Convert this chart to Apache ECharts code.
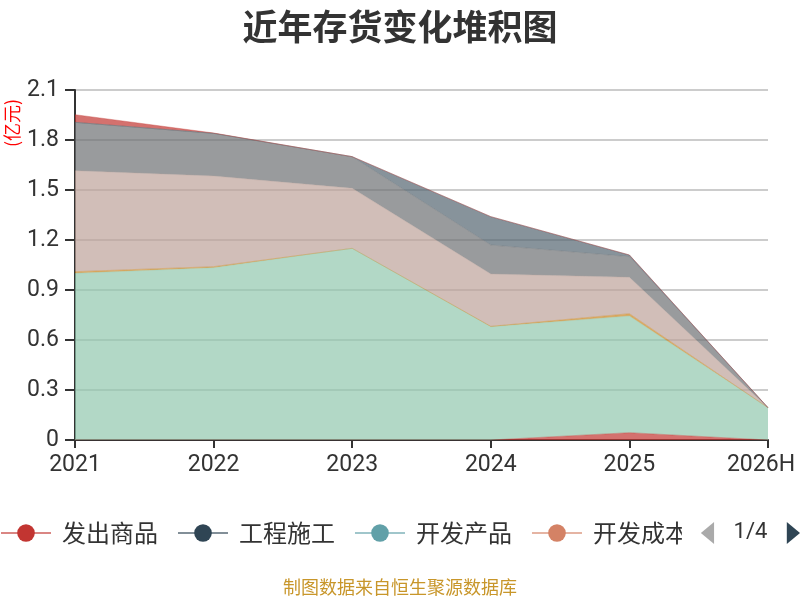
<!DOCTYPE html>
<html>
<head>
<meta charset="utf-8">
<script src="https://cdn.jsdelivr.net/npm/echarts@6/dist/echarts.min.js"></script>
<style>html,body{margin:0;padding:0;background:#fff}#c{width:800px;height:600px}</style>
</head>
<body>
<div id="c"></div>
<script>
var categories = ['2021', '2022', '2023', '2024', '2025', '2026H'];
var yTicks = [0, 0.3, 0.6, 0.9, 1.2, 1.5, 1.8, 2.1];
var seriesNames = ['发出商品', '工程施工', '开发产品', '开发成本', '库存商品', '周转材料', '原材料', '在产品', '委托加工', '低值易耗', '半成品', '合同资产', '其他'];
var s0 = [0, 0, 0, 0, 0.044, 0];
var s1 = [null, null, null, null, null, null];
var s2 = [null, null, null, null, null, null];
var s3 = [null, null, null, null, null, null];
var s4 = [1.0, 1.034, 1.15, 0.68, 0.70, 0.194];
var s5 = [null, null, null, null, null, null];
var s6 = [0.01, 0.006, 0, 0.002, 0.014, 0];
var s7 = [0.606, 0.544, 0.36, 0.314, 0.218, 0];
var s8 = [0.29, 0.256, 0.19, 0.174, 0.124, 0];
var s9 = [0, 0, 0, 0.17, 0.01, 0];
var s10 = [null, null, null, null, null, null];
var s11 = [0.046, 0.002, 0, 0, 0, 0];
var s12 = [null, null, null, null, null, null];
var seriesValues = [s0, s1, s2, s3, s4, s5, s6, s7, s8, s9, s10, s11, s12];
var palette = ['#c23531', '#2f4554', '#61a0a8', '#d48265', '#91c7ae', '#749f83', '#ca8622', '#bda29a', '#6e7074', '#546570', '#c4ccd3'];

var chart = echarts.init(document.getElementById('c'));
var series = seriesNames.map(function (n, i) {
  return {
    name: n,
    type: 'line',
    stack: 'total',
    data: seriesValues[i],
    symbol: 'circle',
    showSymbol: false,
    smooth: false,
    lineStyle: { width: 0.6, opacity: 0.6 },
    areaStyle: { opacity: 0.7 },
    emphasis: { disabled: true }
  };
});
chart.setOption({
  color: palette,
  animation: false,
  title: {
    text: '近年存货变化堆积图',
    left: 'center',
    top: 4,
    textStyle: { fontSize: 35, fontWeight: 'bold', color: '#333', fontFamily: 'Noto Sans CJK SC' }
  },
  grid: { left: 75, right: 32, top: 90, bottom: 160, containLabel: false, outerBoundsMode: 'none' },
  xAxis: {
    type: 'category',
    data: categories,
    boundaryGap: false,
    axisLine: { lineStyle: { color: '#333', width: 2 } },
    axisTick: { length: 8, interval: 0, lineStyle: { color: '#333', width: 2 } },
    axisLabel: {
      interval: 0,
      hideOverlap: false,
      fontSize: 23, color: '#333', margin: 14, fontFamily: 'Roboto',
      formatter: function (v, i) { return i === categories.length - 1 ? '{last|' + v + '}' : v; },
      rich: { last: { fontSize: 23, color: '#333', fontFamily: 'Roboto', padding: [0, 14, 0, 0] } }
    },
    splitLine: { show: false }
  },
  yAxis: {
    type: 'value',
    min: yTicks[0],
    max: yTicks[yTicks.length - 1],
    interval: 0.3,
    axisLine: { show: true, lineStyle: { color: '#333', width: 2 } },
    axisTick: { show: true, length: 10, lineStyle: { color: '#333', width: 2 } },
    axisLabel: { fontSize: 23, color: '#333', margin: 16, fontFamily: 'Roboto' },
    splitLine: { lineStyle: { color: '#ccc', width: 2 } }
  },
  legend: {
    type: 'scroll',
    data: seriesNames,
    left: 0,
    right: 0,
    top: 521,
    padding: 0,
    itemWidth: 50,
    itemHeight: 22,
    itemGap: 19,
    textStyle: { fontSize: 24, color: '#333', fontFamily: 'Noto Sans CJK SC', padding: [0, 0, 0, 6] },
    pageIconSize: [18, 22],
    pageIconColor: '#2f4554',
    pageIconInactiveColor: '#aaa',
    pageTextStyle: { fontSize: 22, color: '#333', fontFamily: 'Roboto' },
    pageButtonItemGap: 10
  },
  graphic: [
    {
      type: 'text',
      x: 3,
      y: 147,
      rotation: Math.PI / 2,
      style: { text: '(亿元)', fill: '#f00', fontSize: 18, fontFamily: 'Noto Sans CJK SC' }
    },
    {
      type: 'text',
      left: 'center',
      top: 578,
      style: { text: '制图数据来自恒生聚源数据库', fill: '#c8962a', fontSize: 18, fontFamily: 'Noto Sans CJK SC' }
    }
  ],
  series: series
});
</script>
</body>
</html>
